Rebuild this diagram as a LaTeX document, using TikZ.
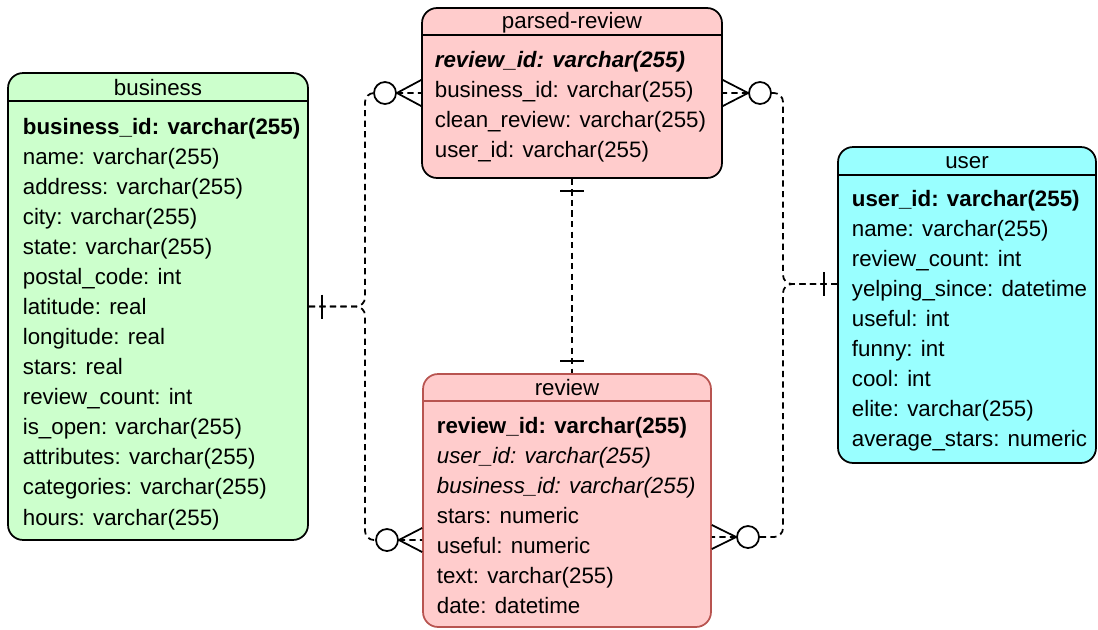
\documentclass[tikz,border=0pt]{standalone}
\usepackage{fontspec}
\setmainfont{Liberation Sans}
\usetikzlibrary{calc}
\definecolor{bizgreen}{HTML}{CCFFCC}
\definecolor{revpink}{HTML}{FFCCCC}
\definecolor{usrcyan}{HTML}{99FFFF}
\definecolor{revred}{HTML}{B85450}
\begin{document}
\begin{tikzpicture}[x=0.02cm,y=-0.02cm,line width=1pt,line join=round,font=\fontsize{12.7}{15}\selectfont,
	tbl/.style={draw,rounded corners=0.3cm,inner sep=0pt},
	ttl/.style={anchor=base,inner sep=0pt},
	row/.style={anchor=base west,inner sep=0pt},
	conn/.style={dash pattern=on 3.5pt off 2.5pt,rounded corners=0.18cm},
	crc/.style={circle,draw,fill=white,minimum size=0.44cm,inner sep=0pt}]
	\useasboundingbox (0,0) rectangle (1098,629);
	% tables
	\node[tbl,fill=bizgreen,minimum width=6cm,minimum height=9.34cm] (business) at (158,306.5) {};
	\draw (business.west |- 0,101) -- (business.east |- 0,101);
	\node[ttl] (business-t) at (158,95) {business};
	\node[row] (business-0) at (22,134) {\textbf{business\_id: varchar(255)}};
	\foreach \t [count=\i] in {name: varchar(255),address: varchar(255),city: varchar(255),state: varchar(255),postal\_code: int,latitude: real,longitude: real,stars: real,review\_count: int,is\_open: varchar(255),attributes: varchar(255),categories: varchar(255),hours: varchar(255)}
		\node[row] (business-\i) at (22,134+30.08*\i) {\t};
	
	\node[tbl,fill=revpink,minimum width=6cm,minimum height=3.4cm] (parsed) at (572,93) {};
	\draw (parsed.west |- 0,35) -- (parsed.east |- 0,35);
	\node[ttl] (parsed-t) at (572,28) {parsed-review};
	\node[row] (parsed-0) at (434,67) {\textbf{\textit{review\_id: varchar(255)}}};
	\foreach \t [count=\i] in {business\_id: varchar(255),clean\_review: varchar(255),user\_id: varchar(255)}
		\node[row] (parsed-\i) at (434,67+30*\i) {\t};
	
	\node[tbl,fill=usrcyan,minimum width=5.16cm,minimum height=6.32cm] (user) at (967,305) {};
	\draw (user.west |- 0,175) -- (user.east |- 0,175);
	\node[ttl] (user-t) at (967,168) {user};
	\node[row] (user-0) at (851,206) {\textbf{user\_id: varchar(255)}};
	\foreach \t [count=\i] in {name: varchar(255),review\_count: int,yelping\_since: datetime,useful: int,funny: int,cool: int,elite: varchar(255),average\_stars: numeric}
		\node[row] (user-\i) at (851,206+30.1*\i) {\t};
	
	\node[tbl,draw=revred,fill=revpink,minimum width=5.76cm,minimum height=5.06cm] (review) at (567,500.5) {};
	\draw[revred] (review.west |- 0,401) -- (review.east |- 0,401);
	\node[ttl] (review-t) at (567,395) {review};
	\node[row] (review-0) at (436,433) {\textbf{review\_id: varchar(255)}};
	\node[row] (review-1) at (436,463) {\textit{user\_id: varchar(255)}};
	\node[row] (review-2) at (436,493) {\textit{business\_id: varchar(255)}};
	\foreach \t [count=\i from 3] in {stars: numeric,useful: numeric,text: varchar(255),date: datetime}
		\node[row] (review-\i) at (436,433+30.1*\i) {\t};
	
	% relations
	\node[crc] (pr-l) at (385,93) {};
	\node[crc] (pr-r) at (760,93) {};
	\node[crc] (rv-l) at (387,540) {};
	\node[crc] (rv-r) at (748,537) {};
	\coordinate (rv-w) at ($(review.west)+(0,39.5)$);
	\coordinate (rv-e) at ($(review.east)+(0,36.5)$);
	\coordinate (us-w) at ($(user.west)+(0,-21)$);
	\coordinate (jl) at (365,306.5);
	\coordinate (jr) at (783,284);
	
	\draw[conn] (business.east) -- (jl) |- (pr-l.west);
	\draw[conn] (business.east) -- (jl) |- (rv-l.west);
	\draw ($(business.east)+(13,-12)$) -- ($(business.east)+(13,12)$);
	\draw[conn] (us-w) -- (jr) |- (pr-r.east);
	\draw[conn] (us-w) -- (jr) |- (rv-r.east);
	\draw ($(us-w)+(-13,-12)$) -- ($(us-w)+(-13,12)$);
	
	\draw[conn] (pr-l.east) -- (parsed.west) (pr-r.west) -- (parsed.east) (rv-l.east) -- (rv-w) (rv-r.west) -- (rv-e);
	\draw ($(parsed.west)+(0,-13)$) -- (pr-l.east) -- ($(parsed.west)+(0,13)$);
	\draw ($(parsed.east)+(0,-13)$) -- (pr-r.west) -- ($(parsed.east)+(0,13)$);
	\draw ($(rv-w)+(0,-12)$) -- (rv-l.east) -- ($(rv-w)+(0,12)$);
	\draw ($(rv-e)+(0,-12)$) -- (rv-r.west) -- ($(rv-e)+(0,12)$);
	
	\draw[conn] (parsed.south) -- (parsed.south |- review.north);
	\draw ($(parsed.south)+(-12,12)$) -- ($(parsed.south)+(12,12)$);
	\draw ($(parsed.south |- review.north)+(-12,-12)$) -- ($(parsed.south |- review.north)+(12,-12)$);
\end{tikzpicture}
\end{document}
